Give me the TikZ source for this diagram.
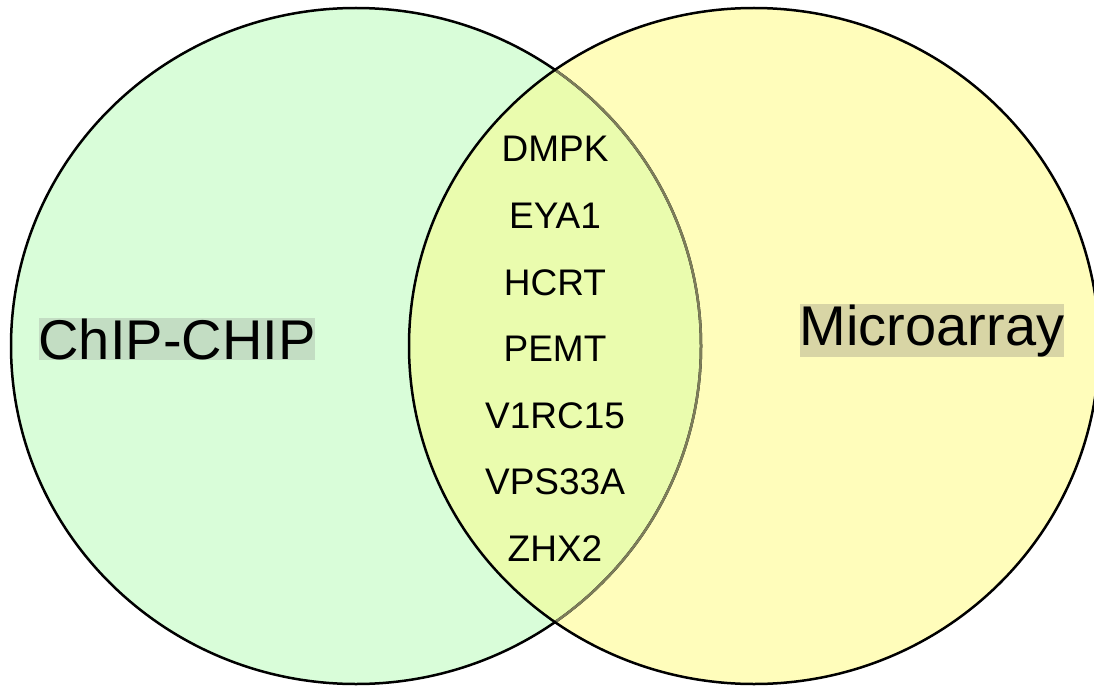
\documentclass[tikz,border=0pt]{standalone}
\usepackage{fontspec}
\setmainfont{Liberation Sans}
\definecolor{chipgreen}{HTML}{D9FDD9}
\definecolor{microyellow}{HTML}{FFFDBB}
\definecolor{overlapcol}{HTML}{EAFCAE}
\definecolor{innerline}{HTML}{7D7D5A}
\definecolor{chipbox}{HTML}{C3DDC3}
\definecolor{microbox}{HTML}{D8D5A5}
\tikzset{
  setline/.style={line width=2.5pt},
  biglabel/.style={inner sep=0pt, font=\fontsize{56}{64}\selectfont, anchor=base},
  genelabel/.style={inner sep=0pt, font=\fontsize{37}{44}\selectfont, anchor=base},
}
\begin{document}
\begin{tikzpicture}[x=1pt,y=-1pt]
\clip (0,0) rectangle (1094,687);
\fill[white] (0,0) rectangle (1094,687);
\coordinate (L) at (356,346);
\coordinate (R) at (754,346);
\fill[chipgreen] (L) ellipse [x radius=345pt, y radius=338pt];
\fill[microyellow] (R) ellipse [x radius=345pt, y radius=338pt];
\begin{scope}
  \clip (L) ellipse [x radius=345pt, y radius=338pt];
  \fill[overlapcol] (R) ellipse [x radius=345pt, y radius=338pt];
\end{scope}
\draw[setline, black] (L) ellipse [x radius=345pt, y radius=338pt];
\begin{scope}
  \clip (R) ellipse [x radius=345pt, y radius=338pt];
  \draw[setline, innerline] (L) ellipse [x radius=345pt, y radius=338pt];
\end{scope}
\draw[setline, black] (R) ellipse [x radius=345pt, y radius=338pt];

\node[biglabel, fill=chipbox] (chip) at (177,359) {ChIP-CHIP};
\node[biglabel, fill=microbox] (micro) at (932,345) {Microarray};

\node[genelabel] (g1) at (555,162) {DMPK};
\node[genelabel] (g2) at (555,228.5) {EYA1};
\node[genelabel] (g3) at (555,295) {HCRT};
\node[genelabel] (g4) at (555,361.5) {PEMT};
\node[genelabel] (g5) at (555,428) {V1RC15};
\node[genelabel] (g6) at (555,494.5) {VPS33A};
\node[genelabel] (g7) at (555,561) {ZHX2};
\end{tikzpicture}
\end{document}
